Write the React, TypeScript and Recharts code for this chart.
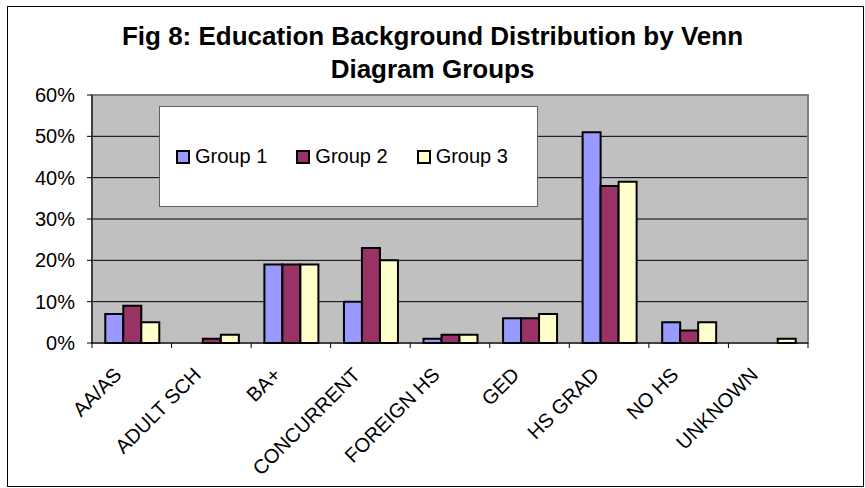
import React from "react";
import {
  BarChart,
  Bar,
  XAxis,
  YAxis,
  CartesianGrid,
  ReferenceArea,
} from "recharts";

const categories = [
  "AA/AS",
  "ADULT SCH",
  "BA+",
  "CONCURRENT",
  "FOREIGN HS",
  "GED",
  "HS GRAD",
  "NO HS",
  "UNKNOWN",
];
const group1 = [7, 0, 19, 10, 1, 6, 51, 5, 0];
const group2 = [9, 1, 19, 23, 2, 6, 38, 3, 0];
const group3 = [5, 2, 19, 20, 2, 7, 39, 5, 1];
const seriesNames = ["Group 1", "Group 2", "Group 3"];
const yTicks = [0, 10, 20, 30, 40, 50, 60];
const titleLines = [
  "Fig 8: Education Background Distribution by Venn",
  "Diagram Groups",
];

const COLORS = ["#9999FF", "#993366", "#FFFFCC"];
const FONT = "'Liberation Sans', Arial, sans-serif";
const W = 865;
const H = 488;
const MARGIN = { top: 95, right: 57, bottom: 5, left: 0 };
const Y_AXIS_W = 92;
const X_AXIS_H = 140;
const PLOT_W = W - MARGIN.left - Y_AXIS_W - MARGIN.right;
const BAND = PLOT_W / categories.length;

const data = categories.map((c, i) => ({
  name: c,
  g1: group1[i],
  g2: group2[i],
  g3: group3[i],
}));

const XTick = (props: any) => {
  const { x, y, payload, index } = props;
  const axisY = y - 5;
  const isLast = index === categories.length - 1;
  return (
    <g>
      <line x1={x - BAND / 2} y1={axisY} x2={x - BAND / 2} y2={axisY + 5} stroke="#000" strokeWidth={1} />
      {isLast && (
        <line x1={x + BAND / 2} y1={axisY} x2={x + BAND / 2} y2={axisY + 5} stroke="#000" strokeWidth={1} />
      )}
      <text
        x={0}
        y={0}
        textAnchor="end"
        fill="#000"
        fontSize={20}
        fontFamily={FONT}
        transform={`translate(${x - 9},${axisY + 33}) rotate(-45)`}
      >
        {payload.value}
      </text>
    </g>
  );
};

const LegendBox = () => (
  <div
    style={{
      position: "absolute",
      left: 159,
      top: 106,
      width: 379,
      height: 101,
      boxSizing: "border-box",
      background: "#fff",
      border: "1px solid #606060",
      display: "flex",
      alignItems: "center",
      paddingLeft: 16,
      fontFamily: FONT,
      fontSize: 20,
      color: "#000",
      zIndex: 3,
    }}
  >
    {seriesNames.map((name, i) => (
      <div key={i} style={{ width: 126, display: "flex", alignItems: "center" }}>
        <span
          style={{
            display: "inline-block",
            width: 10,
            height: 10,
            border: "2px solid #000",
            background: COLORS[i],
            marginRight: 5,
          }}
        />
        <span>{name}</span>
      </div>
    ))}
  </div>
);

export default function App() {
  return (
    <div style={{ position: "absolute", left: 0, top: 0, width: W, height: H, background: "#fff" }}>
      <div
        style={{
          position: "absolute",
          left: 7,
          top: 6,
          width: W - 8,
          height: H - 7,
          border: "1px solid #000",
          boxSizing: "border-box",
        }}
      />
      <div
        style={{
          position: "absolute",
          left: 0,
          top: 19.5,
          width: W,
          textAlign: "center",
          fontFamily: FONT,
          fontWeight: "bold",
          fontSize: 26,
          lineHeight: "33px",
          color: "#000",
          zIndex: 2,
        }}
      >
        {titleLines.map((t, i) => (
          <div key={i}>{t}</div>
        ))}
      </div>
      <div style={{ position: "absolute", left: 0, top: 0 }}>
        <BarChart
          width={W}
          height={H}
          data={data}
          margin={MARGIN}
          barCategoryGap="16.7%"
          barGap={0}
        >
          <CartesianGrid
            vertical={false}
            stroke="#000"
            strokeWidth={1}
            fill="#C0C0C0"
            fillOpacity={1}
          />
          <ReferenceArea y1={0} y2={60} fill="none" stroke="#808080" strokeWidth={2} ifOverflow="visible" />
          <XAxis
            dataKey="name"
            height={X_AXIS_H}
            interval={0}
            tickLine={false}
            tickSize={5}
            tickMargin={0}
            axisLine={{ stroke: "#000", strokeWidth: 1 }}
            tick={<XTick />}
          />
          <YAxis
            width={Y_AXIS_W}
            domain={[0, 60]}
            ticks={yTicks}
            interval={0}
            tickSize={5}
            tickMargin={12}
            tickFormatter={(v: number) => `${v}%`}
            axisLine={{ stroke: "#000", strokeWidth: 1 }}
            tickLine={{ stroke: "#000", strokeWidth: 1 }}
            tick={{ fill: "#000", fontSize: 20, fontFamily: FONT }}
          />
          <Bar dataKey="g1" name={seriesNames[0]} fill={COLORS[0]} stroke="#000" strokeWidth={2} isAnimationActive={false} />
          <Bar dataKey="g2" name={seriesNames[1]} fill={COLORS[1]} stroke="#000" strokeWidth={2} isAnimationActive={false} />
          <Bar dataKey="g3" name={seriesNames[2]} fill={COLORS[2]} stroke="#000" strokeWidth={2} isAnimationActive={false} />
        </BarChart>
      </div>
      <LegendBox />
    </div>
  );
}
